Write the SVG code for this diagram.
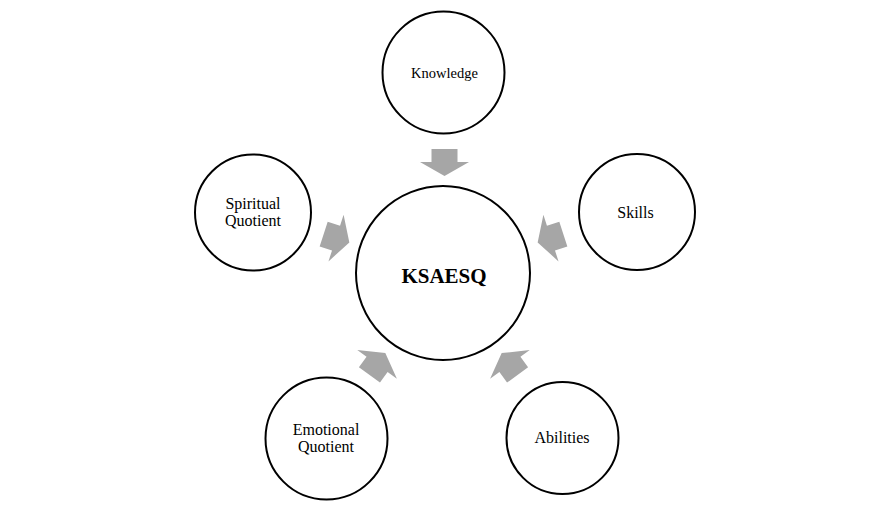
<svg xmlns="http://www.w3.org/2000/svg" xmlns:xlink="http://www.w3.org/1999/xlink" width="888" height="509" viewBox="0 0 888 509">
<style>
.n{fill:#fff;stroke:#000;stroke-width:2}
.t{font-family:"Liberation Serif","Times New Roman",serif;font-size:16px;fill:#000;text-anchor:middle}
.a{fill:#a6a6a6}
</style>
<defs>
<path id="arr" d="M -13,-27 H 13 V -14 H 24.5 L 0,0 L -24.5,-14 H -13 Z"/>
</defs>
<rect width="888" height="509" fill="#fff"/>
<g id="connectors">
<use xlink:href="#arr" class="a" transform="translate(443.5,273) rotate(0) translate(1,-97)"/>
<use xlink:href="#arr" class="a" transform="translate(443.5,273) rotate(72) translate(0,-99)"/>
<use xlink:href="#arr" class="a" transform="translate(443.5,273) rotate(144) translate(0,-99)"/>
<use xlink:href="#arr" class="a" transform="translate(443.5,273) rotate(216) translate(0,-99)"/>
<use xlink:href="#arr" class="a" transform="translate(443.5,273) rotate(288) translate(0,-99)"/>
</g>
<g id="ksaesq">
<circle class="n" cx="443" cy="273" r="87"/>
<text class="t" x="444" y="283" style="font-size:21px;font-weight:bold">KSAESQ</text>
</g>
<g id="knowledge">
<circle class="n" cx="443.5" cy="72.5" r="61"/>
<text class="t" x="444.5" y="78" style="font-size:14.5px">Knowledge</text>
</g>
<g id="skills">
<circle class="n" cx="637" cy="212" r="58"/>
<text class="t" x="635.5" y="218">Skills</text>
</g>
<g id="abilities">
<circle class="n" cx="562.5" cy="438" r="56"/>
<text class="t" x="562" y="443">Abilities</text>
</g>
<g id="emotional">
<circle class="n" cx="326.5" cy="438.5" r="61"/>
<text class="t" x="326" y="435">Emotional</text>
<text class="t" x="326" y="452">Quotient</text>
</g>
<g id="spiritual">
<circle class="n" cx="253" cy="212.5" r="58"/>
<text class="t" x="253" y="209">Spiritual</text>
<text class="t" x="253" y="226">Quotient</text>
</g>
</svg>
